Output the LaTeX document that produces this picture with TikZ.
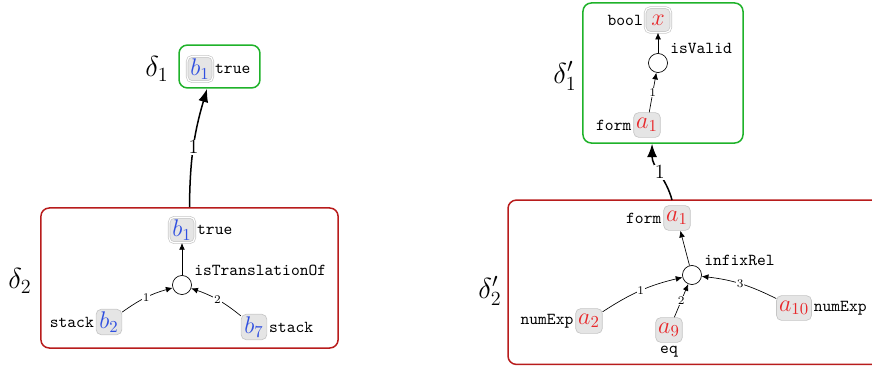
\documentclass[tikz,border=0pt]{standalone}
\usepackage{amsmath}
\usetikzlibrary{arrows.meta,positioning}
\definecolor{varblue}{HTML}{2F4FE0}
\definecolor{varred}{HTML}{E8282B}
\definecolor{boxgreen}{HTML}{1FB22A}
\definecolor{boxred}{HTML}{B81C1C}
\tikzset{
  var/.style={draw=gray!45,fill=gray!20,rounded corners=3pt,inner sep=1.5pt,
    minimum height=0.52cm,minimum width=0.54cm,font=\Large},
  selvar/.style={var,double=white,double distance=0.7pt},
  hub/.style={circle,draw,minimum size=0.4cm,inner sep=0pt},
  tag/.style={font=\ttfamily,inner sep=1pt},
  num/.style={font=\scriptsize,fill=white,inner sep=0.5pt},
  bignum/.style={font=\large,fill=white,inner sep=0.5pt},
  gbox/.style={draw=boxgreen,line width=0.9pt,rounded corners=5pt,inner sep=0pt},
  rbox/.style={draw=boxred,line width=0.9pt,rounded corners=5pt,inner sep=0pt},
  edge/.style={-{Latex[length=4pt,width=3.5pt]}},
  bigedge/.style={line width=0.9pt,-{Latex[length=8pt,width=6pt]}}
}
\begin{document}
\begin{tikzpicture}[x=0.021cm,y=0.021cm]
\useasboundingbox (0,0) rectangle (872,367);
% left pair
\node[gbox,minimum width=1.70cm,minimum height=0.90cm] (d1box) at (219.5,300.5) {};
\node[rbox,minimum width=6.24cm,minimum height=2.94cm] (d2box) at (189.5,89) {};
\node[font=\LARGE] (d1) at (157,298) {$\delta_1$};
\node[font=\LARGE] (d2) at (20,86) {$\delta_2$};

\node[selvar] (b1top) at (200,298) {$\color{varblue}b_1$};
\node[tag,right=0pt of b1top] {true};

\node[selvar] (b1) at (182,137) {$\color{varblue}b_1$};
\node[tag,right=0pt of b1] {true};
\node[hub] (h1) at (182,82) {};
\node[tag,anchor=south west] at ([xshift=2pt]h1.north east) {isTranslationOf};
\node[var] (b2) at (109,45) {$\color{varblue}b_2$};
\node[tag,left=0pt of b2] {stack};
\node[var] (b7) at (254,40) {$\color{varblue}b_7$};
\node[tag,right=0pt of b7] {stack};

\draw[edge] (h1) -- (b1);
\draw[edge] (b2) to[bend left=10] node[num] {1} (h1);
\draw[edge] (b7) to[bend right=10] node[num] {2} (h1);
\draw[bigedge] (d2box.north) to[bend left=8] node[bignum] {1} ([xshift=-0.26cm]d1box.south);

% right pair
\node[gbox,minimum width=3.36cm,minimum height=2.94cm] (d1pbox) at (663,294) {};
\node[rbox,minimum width=8.02cm,minimum height=3.45cm] (d2pbox) at (699,84.75) {};
\node[font=\LARGE] (d1p) at (565,291) {$\delta'_1$};
\node[font=\LARGE] (d2p) at (490,76) {$\delta'_2$};

\node[selvar] (x) at (658,347) {$\color{varred}x$};
\node[tag,left=0pt of x] {bool};
\node[hub] (h2) at (658,304) {};
\node[tag,anchor=south west] at ([xshift=2pt]h2.north east) {isValid};
\node[var] (a1top) at (647,242) {$\color{varred}a_1$};
\node[tag,left=0pt of a1top] {form};
\draw[edge] (h2) -- (x);
\draw[edge] (a1top) -- node[num] {1} (h2);

\node[var] (a1) at (677,149) {$\color{varred}a_1$};
\node[tag,left=0pt of a1] {form};
\node[hub] (h3) at (692,92) {};
\node[tag,anchor=south west] at ([xshift=2pt]h3.north east) {infixRel};
\node[var] (a2) at (589,46) {$\color{varred}a_2$};
\node[tag,left=0pt of a2] {numExp};
\node[var] (a9) at (669,37) {$\color{varred}a_9$};
\node[tag,below=1pt of a9] {eq};
\node[var] (a10) at (794,59) {$\color{varred}a_{10}$};
\node[tag,right=0pt of a10] {numExp};

\draw[edge] (h3) -- (a1);
\draw[edge] (a2) to[bend left=10] node[num] {1} (h3);
\draw[edge] (a9) -- node[num] {2} (h3);
\draw[edge] (a10) to[bend right=10] node[num] {3} (h3);
\coordinate (q1) at (672,167);
\draw[bigedge] (q1) to[out=105,in=-90] node[bignum] {1} ([xshift=-0.23cm]d1pbox.south);
\end{tikzpicture}
\end{document}
